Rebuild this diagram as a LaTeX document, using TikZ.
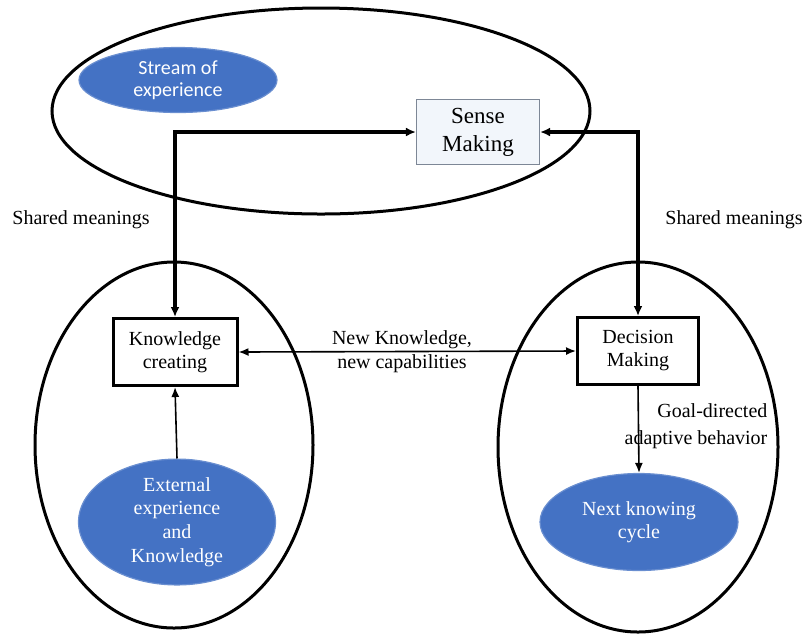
\documentclass[tikz,border=0pt]{standalone}
\usepackage{fontspec}
\setmainfont{Liberation Serif}
\newfontfamily\calibri{Carlito}
\usetikzlibrary{shapes.geometric,arrows.meta}
\definecolor{officeblue}{RGB}{68,114,196}
\definecolor{paleblue}{RGB}{242,246,251}
\definecolor{edgegray}{RGB}{125,135,150}
\begin{document}
\begin{tikzpicture}[x=0.5pt,y=-0.5pt,
		box/.style={draw,line width=1.5pt,minimum width=62pt,minimum height=33.5pt,inner sep=1pt,align=center,font=\fontsize{10}{11.5}\selectfont},
		blob/.style={ellipse,fill=officeblue,draw=officeblue!80!white,line width=0.6pt,text=white,inner sep=0pt,align=center},
		bigarrow/.style={{Latex[length=5pt,width=4.5pt]}-{Latex[length=5pt,width=4.5pt]},line width=1.6pt},
		thinarrow/.style={-{Latex[length=5pt,width=4pt]},line width=0.8pt},
		thinboth/.style={{Latex[length=5pt,width=4pt]}-{Latex[length=5pt,width=4pt]},line width=0.8pt}]
	\useasboundingbox (0,0) rectangle (802,634);
	\draw[line width=1.5pt] (321,111) ellipse (134.5pt and 51.5pt);
	\draw[line width=1.5pt] (174,445) ellipse (69.5pt and 91.5pt);
	\draw[line width=1.5pt] (638,447) ellipse (70pt and 92.5pt);
	\node[blob,minimum width=99pt,minimum height=32.5pt,font=\calibri\fontsize{10}{11}\selectfont] (stream) at (178,80) {Stream of\\experience};
	\node[box,draw=edgegray,line width=0.6pt,fill=paleblue,minimum width=61.5pt,minimum height=32.5pt,font=\fontsize{11.5}{14}\selectfont] (sm) at (478,132) {Sense\\Making};
	\node[box] (kc) at (175,352) {Knowledge\\creating};
	\node[box,minimum width=60.5pt] (dm) at (638,351) {Decision\\Making};
	\node[blob,minimum width=98.5pt,minimum height=49.5pt,font=\fontsize{10}{11.8}\selectfont] (ext) at (177,522) {External\\experience\\and\\Knowledge};
	\node[blob,minimum width=99pt,minimum height=48.5pt,font=\fontsize{10}{11.5}\selectfont] (next) at (639,522) {Next knowing\\cycle};
	\node (sharedl) at (81,220) {Shared meanings};
	\node (sharedr) at (734,220) {Shared meanings};
	\node[align=center] (newk) at (402,352) {New Knowledge,\\new capabilities};
	\node[align=right,font=\fontsize{10}{13.5}\selectfont] (goal) at (696,426) {Goal-directed\\adaptive behavior};
	\draw[bigarrow] (kc.north) |- (sm.west);
	\draw[bigarrow] (sm.east) -| (dm.north);
	\draw[thinboth] (kc.east) -- (dm.west);
	\draw[thinarrow] (ext.north) -- (kc.south);
	\draw[thinarrow] (dm.south) -- (next.north);
\end{tikzpicture}
\end{document}
